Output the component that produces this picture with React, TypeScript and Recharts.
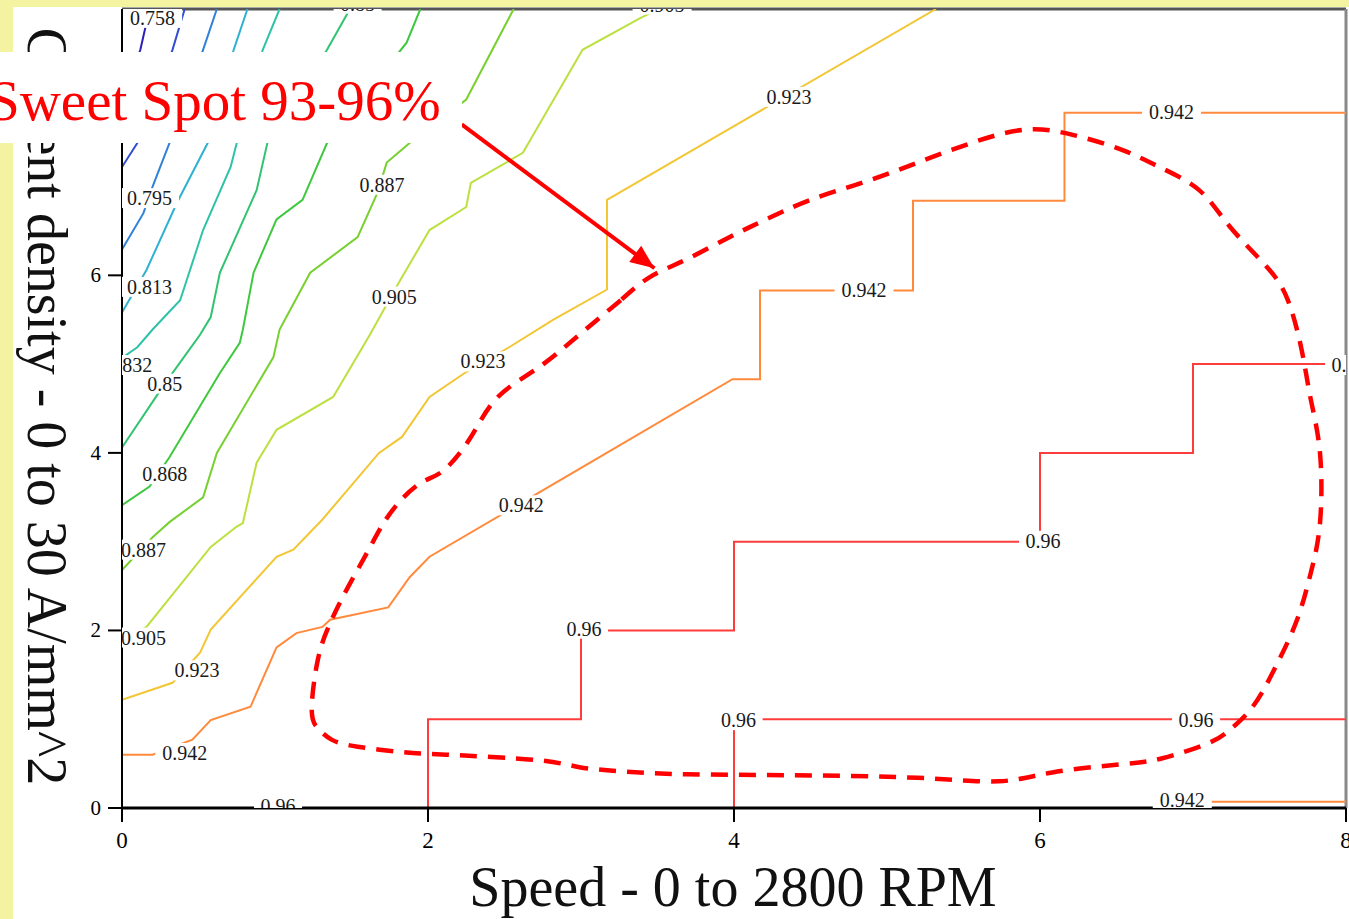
import React from 'react';
import { ComposedChart, Line, Scatter, XAxis, YAxis, ReferenceLine } from 'recharts';

// ---- axis ticks ----
const xTicks = [0, 2, 4, 6, 8];
const yTicks = [0, 2, 4, 6, 8];

// ---- contour lines (speed unit, current-density unit) ----
const c0758 = [[0.18, 9.0], [0.12, 8.54], [0, 7.98]];
const c0777 = [[0.41, 9.0], [0.33, 8.54], [0.10, 7.49], [0, 7.22]];
const c0795 = [[0.62, 9.0], [0.53, 8.54], [0.31, 7.49], [0.20, 7.0], [0.14, 6.7], [0, 6.29]];
const c0813 = [[0.82, 9.0], [0.73, 8.54], [0.56, 7.49], [0.36, 6.82], [0.16, 6.06], [0, 5.58]];
const c0832 = [[1.03, 9.0], [0.92, 8.54], [0.75, 7.49], [0.71, 7.22], [0.53, 6.51], [0.38, 5.72], [0.2, 5.39], [0.1, 5.19], [0, 5.07]];
const c0850 = [[1.49, 9.0], [1.34, 8.54], [0.95, 7.49], [0.88, 6.96], [0.64, 6.03], [0.58, 5.53], [0.51, 5.33], [0.28, 4.78], [0, 4.06]];
const c0868 = [[1.95, 9.0], [1.86, 8.62], [1.34, 7.49], [1.18, 6.85], [1.01, 6.63], [0.86, 6.03], [0.79, 5.39], [0.77, 5.24], [0.64, 4.9], [0.31, 3.95], [0.18, 3.62], [0, 3.41]];
const c0887 = [[2.56, 9.0], [2.25, 7.98], [1.88, 7.49], [1.73, 7.27], [1.67, 6.93], [1.54, 6.43], [1.23, 6.03], [1.03, 5.39], [0.99, 5.08], [0.62, 4.0], [0.53, 3.5], [0.31, 3.22], [0.2, 3.05], [0, 2.68]];
const c0905 = [[3.52, 9.01], [3.39, 8.9], [3.01, 8.54], [2.62, 7.38], [2.28, 7.04], [2.25, 6.77], [2.01, 6.51], [1.82, 5.95], [1.62, 5.33], [1.38, 4.63], [1.01, 4.26], [0.88, 3.89], [0.79, 3.21], [0.75, 3.17], [0.58, 2.94], [0.16, 2.04], [0.02, 1.89]];
const c0923 = [[5.32, 9.0], [4.11, 7.79], [3.17, 6.85], [3.17, 5.84], [2.82, 5.5], [2.53, 5.19], [2.24, 4.9], [2.01, 4.63], [1.83, 4.18], [1.68, 4.0], [1.31, 3.25], [1.12, 2.91], [1.01, 2.83], [0.58, 2.01], [0.51, 1.75], [0.33, 1.41], [0, 1.22]];
const c0942 = [[8, 7.83], [6.16, 7.83], [6.16, 6.84], [5.17, 6.84], [5.17, 5.83], [4.17, 5.83], [4.17, 4.83], [3.99, 4.83], [2.01, 2.83], [1.88, 2.6], [1.74, 2.26], [1.36, 2.12], [1.31, 2.04], [1.14, 1.97], [1.01, 1.81], [0.84, 1.14], [0.58, 0.99], [0.46, 0.77], [0.2, 0.6], [0, 0.6]];
const c0942b = [[7.08, 0.07], [8, 0.07]];
const c0960a = [[8, 5], [7, 5], [7, 4], [6, 4], [6, 3], [4, 3], [4, 2], [3, 2], [3, 1], [2, 1], [2, 0]];
const c0960b = [[4, 0], [4, 1], [8, 1]];

// ---- contour value labels ----
const labels = [
  { x: 0.2, y: 8.9, text: '0.758' },
  { x: 1.54, y: 9.06, text: '0.85' },
  { x: 3.53, y: 9.05, text: '0.905' },
  { x: 0.18, y: 6.87, text: '0.795' },
  { x: 0.18, y: 5.87, text: '0.813' },
  { x: 0.05, y: 4.99, text: '0.832' },
  { x: 0.28, y: 4.78, text: '0.85' },
  { x: 0.28, y: 3.76, text: '0.868' },
  { x: 0.14, y: 2.91, text: '0.887' },
  { x: 0.14, y: 1.92, text: '0.905' },
  { x: 0.49, y: 1.55, text: '0.923' },
  { x: 0.41, y: 0.62, text: '0.942' },
  { x: 1.7, y: 7.02, text: '0.887' },
  { x: 1.78, y: 5.76, text: '0.905' },
  { x: 2.36, y: 5.03, text: '0.923' },
  { x: 2.61, y: 3.41, text: '0.942' },
  { x: 4.36, y: 8.01, text: '0.923' },
  { x: 6.86, y: 7.84, text: '0.942' },
  { x: 4.85, y: 5.84, text: '0.942' },
  { x: 8.02, y: 4.99, text: '0.96' },
  { x: 6.02, y: 3.01, text: '0.96' },
  { x: 3.02, y: 2.02, text: '0.96' },
  { x: 4.03, y: 0.99, text: '0.96' },
  { x: 7.02, y: 0.99, text: '0.96' },
  { x: 6.93, y: 0.09, text: '0.942' },
  { x: 1.02, y: 0.02, text: '0.96' },
];

// ---- sweet spot outline ----
const sweetSpot = [
  [3.26, 5.72], [3.03, 5.39], [2.85, 5.13], [2.67, 4.9], [2.44, 4.6], [2.27, 4.15], [2.1, 3.8], [1.97, 3.68],
  [1.83, 3.48], [1.71, 3.21], [1.6, 2.87], [1.45, 2.4], [1.35, 2.04], [1.28, 1.67], [1.24, 1.12], [1.28, 0.9],
  [1.37, 0.77], [1.54, 0.69], [1.83, 0.63], [2.12, 0.6], [2.71, 0.54], [2.99, 0.46], [3.29, 0.41], [3.69, 0.38],
  [4.33, 0.37], [5.2, 0.34], [5.73, 0.3], [6.08, 0.4], [6.52, 0.49], [6.8, 0.56], [7.1, 0.73], [7.24, 0.88],
  [7.39, 1.14], [7.54, 1.59], [7.68, 2.12], [7.77, 2.65], [7.83, 3.21], [7.83, 4.0], [7.77, 4.6], [7.71, 5.16],
  [7.62, 5.72], [7.48, 6.1], [7.24, 6.55], [7.04, 6.96], [6.78, 7.22], [6.54, 7.41], [6.22, 7.58], [5.9, 7.64],
  [5.55, 7.49], [5.2, 7.27], [4.85, 7.05], [4.5, 6.85], [4.21, 6.63], [3.97, 6.43], [3.69, 6.18], [3.45, 5.98],
  [3.26, 5.72],
];
const arrowLine = [[2.22, 7.7], [3.48, 6.08]];

const contours = [
  { id: 'c0758', color: '#2b1fb5', pts: c0758 },
  { id: 'c0777', color: '#2f4fd2', pts: c0777 },
  { id: 'c0795', color: '#2f82d8', pts: c0795 },
  { id: 'c0813', color: '#2fb2d2', pts: c0813 },
  { id: 'c0832', color: '#2ec2a8', pts: c0832 },
  { id: 'c0850', color: '#30c470', pts: c0850 },
  { id: 'c0868', color: '#3ec83e', pts: c0868 },
  { id: 'c0887', color: '#78d030', pts: c0887 },
  { id: 'c0905', color: '#bce040', pts: c0905 },
  { id: 'c0923', color: '#f2c634', pts: c0923 },
  { id: 'c0942', color: '#ff8a3c', pts: c0942 },
  { id: 'c0942b', color: '#ff8a3c', pts: c0942b },
  { id: 'c0960a', color: '#ff3c3c', pts: c0960a },
  { id: 'c0960b', color: '#ff3c3c', pts: c0960b },
];

const SERIF = "'Liberation Serif', 'Times New Roman', serif";

const toPts = (arr: number[][]) => arr.map(([x, y]) => ({ x, y }));

const LabelShape = (props: any) => {
  const { cx, cy, payload } = props;
  const text: string = payload.text;
  const w = text.length * 11 + 4;
  return (
    <g>
      <rect x={cx - w / 2} y={cy - 10} width={w} height={20} fill="#ffffff" />
      <text x={cx} y={cy + 7} textAnchor="middle" fontSize={20} fontFamily={SERIF} fill="#1a1a1a">
        {text}
      </text>
    </g>
  );
};

const ArrowDot = (props: any) => {
  const { cx, cy, index, points } = props;
  if (index !== 1) return <g key={`ad${index}`} />;
  let ang = Math.atan2(143, 193);
  if (points && points[0]) ang = Math.atan2(cy - points[0].y, cx - points[0].x);
  const L = 24;
  const W = 10;
  const bx = cx - L * Math.cos(ang);
  const by = cy - L * Math.sin(ang);
  const nx = -Math.sin(ang);
  const ny = Math.cos(ang);
  return (
    <polygon
      key={`ad${index}`}
      points={`${cx},${cy} ${bx + W * nx},${by + W * ny} ${bx - W * nx},${by - W * ny}`}
      fill="#ff0000"
    />
  );
};

const XTick = (props: any) => {
  const { x, y, payload } = props;
  return (
    <text x={x} y={y + 26} textAnchor="middle" fontSize={23} fontFamily={SERIF} fill="#000">
      {payload.value}
    </text>
  );
};

const YTick = (props: any) => {
  const { x, y, payload } = props;
  return (
    <text x={x} y={y + 7} textAnchor="end" fontSize={21} fontFamily={SERIF} fill="#000">
      {payload.value}
    </text>
  );
};

const XLabel = (props: any) => {
  const vb = props.viewBox || { x: 122, y: 808, width: 1224 };
  return (
    <text x={vb.x + vb.width / 2 - 1} y={vb.y + 98} textAnchor="middle" fontSize={56} fontFamily={SERIF} fill="#111">
      Speed - 0 to 2800 RPM
    </text>
  );
};

const YLabel = (props: any) => {
  const vb = props.viewBox || { x: 0, y: 9, width: 122, height: 799 };
  return (
    <text transform={`translate(28, ${vb.y + vb.height / 2 - 2}) rotate(90)`} textAnchor="middle" fontSize={56} fontFamily={SERIF} fill="#111">
      Current density - 0 to 30 A/mm^2
    </text>
  );
};

export default function App() {
  return (
    <div style={{ position: 'absolute', left: 0, top: 0, width: 1349, height: 919, background: '#f3f3a2', overflow: 'hidden' }}>
      <div style={{ position: 'absolute', left: 13, top: 7, width: 1336, height: 912, background: '#ffffff' }} />
      <div style={{ position: 'absolute', left: 0, top: 0 }}>
        <ComposedChart width={1349} height={919} margin={{ top: 9, right: 3, bottom: 0, left: 0 }}>
          <XAxis
            type="number"
            dataKey="x"
            domain={[0, 8]}
            ticks={xTicks}
            interval={0}
            allowDataOverflow
            height={111}
            tickSize={14}
            tickMargin={0}
            axisLine={{ stroke: '#000', strokeWidth: 3 }}
            tickLine={{ stroke: '#000', strokeWidth: 2 }}
            tick={XTick}
            label={(p: any) => <XLabel {...p} />}
          />
          <YAxis
            type="number"
            dataKey="y"
            domain={[0, 9]}
            ticks={yTicks}
            interval={0}
            allowDataOverflow
            width={122}
            tickSize={14}
            tickMargin={7}
            axisLine={{ stroke: '#000', strokeWidth: 2 }}
            tickLine={{ stroke: '#000', strokeWidth: 2 }}
            tick={YTick}
            label={(p: any) => <YLabel {...p} />}
          />
          <ReferenceLine y={9} stroke="#555" strokeWidth={3} />
          <ReferenceLine x={8} stroke="#888" strokeWidth={3} />
          {contours.map((c) => (
            <Line
              key={c.id}
              data={toPts(c.pts)}
              dataKey="y"
              type="linear"
              stroke={c.color}
              strokeWidth={2}
              dot={false}
              activeDot={false}
              isAnimationActive={false}
            />
          ))}
          <Scatter data={labels} dataKey="y" shape={LabelShape} isAnimationActive={false} />
          <Line
            data={toPts(sweetSpot)}
            dataKey="y"
            type="natural"
            stroke="#ff0000"
            strokeWidth={4.5}
            strokeDasharray="17 11"
            dot={false}
            activeDot={false}
            isAnimationActive={false}
          />
          <Line
            data={toPts(arrowLine)}
            dataKey="y"
            type="linear"
            stroke="#ff0000"
            strokeWidth={4}
            dot={ArrowDot}
            activeDot={false}
            isAnimationActive={false}
          />
        </ComposedChart>
      </div>
      <svg width={470} height={150} style={{ position: 'absolute', left: 0, top: 0 }}>
        <rect x={0} y={52} width={462} height={91} fill="#ffffff" />
        <text x={-12} y={120} fontSize={57} fontFamily={SERIF} fill="#ff0000">
          Sweet Spot 93-96%
        </text>
      </svg>
    </div>
  );
}
